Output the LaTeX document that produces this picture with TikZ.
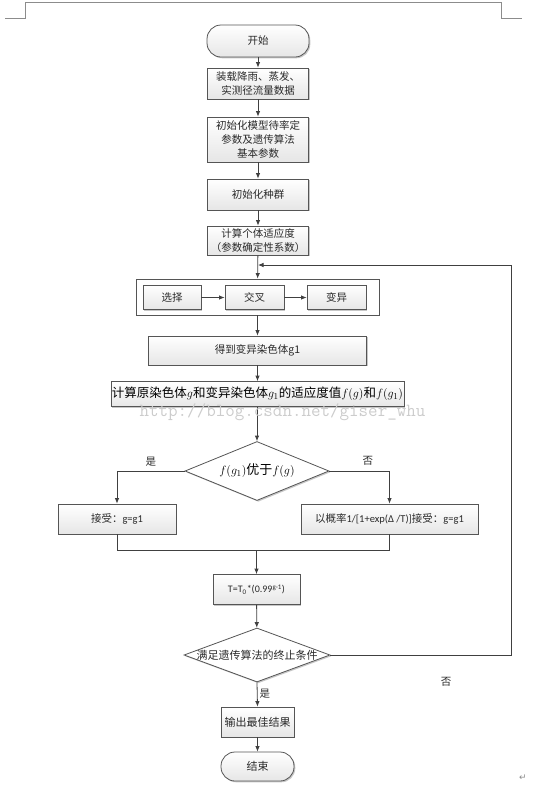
\documentclass[tikz,border=0pt]{standalone}
\usepackage[no-math]{fontspec}
\setmainfont{Carlito}
\newfontfamily\cjk{Noto Sans CJK SC}
\newfontfamily\symfont{DejaVu Sans}
\usetikzlibrary{arrows.meta,shapes.geometric,shadows,calc}
\definecolor{lc}{HTML}{404040}
\definecolor{bc}{HTML}{555555}
\definecolor{fillg}{HTML}{E6E6E6}
\definecolor{tc}{HTML}{2A2A2A}
\definecolor{pagec}{HTML}{8C8C8C}
\tikzset{
  conn/.style={draw=lc, line width=0.8pt},
  arr/.style={conn, -{Latex[length=5.5pt,width=4.5pt]}},
  shadowed/.style={drop shadow={shadow xshift=1.3pt, shadow yshift=-1.3pt, opacity=0.22, fill=black}},
  procbox/.style={draw=bc, line width=0.8pt, top color=white, bottom color=fillg,
    shadowed, align=center, inner sep=1pt, text=tc,
    font=\cjk\fontsize{10.5}{14}\selectfont},
  termbox/.style={procbox, rounded corners=14pt},
  groupbox/.style={draw=bc, line width=0.8pt, fill=white, shadowed},
  decision/.style={diamond, draw=bc, line width=0.8pt, fill=white, shadowed,
    inner sep=0pt, text=tc, font=\cjk\fontsize{11}{14}\selectfont},
  lbl/.style={text=tc, font=\cjk\fontsize{10.5}{12}\selectfont, inner sep=1pt},
  pagemark/.style={draw=pagec, line width=0.7pt},
}
\begin{document}
\begin{tikzpicture}[x=1pt,y=-1pt]
\useasboundingbox (0,0) rectangle (546,793);
% page corner marks
\draw[pagemark] (5,18) -- (25,18) -- (25,2) -- (501,2) -- (501,18) -- (522,18);

% nodes
\node[termbox, minimum width=102pt, minimum height=32pt] (start) at (258,41) {开始};
\node[procbox, minimum width=101pt, minimum height=31pt] (load) at (258,83.5) {装载降雨、蒸发、\\实测径流量数据};
\node[procbox, minimum width=101pt, minimum height=45pt] (init) at (258,139.5) {初始化模型待率定\\参数及遗传算法\\基本参数};
\node[procbox, minimum width=101pt, minimum height=31pt] (pop) at (258,194.5) {初始化种群};
\node[procbox, minimum width=101pt, minimum height=29pt] (fit) at (258,240.5) {计算个体适应度\\（参数确定性系数）};

\node[groupbox, minimum width=243pt, minimum height=36pt] (grp) at (257.5,297) {};
\node[procbox, minimum width=58pt, minimum height=24pt] (sel) at (172,297.5) {选择};
\node[procbox, minimum width=59pt, minimum height=24pt] (cross) at (254.5,297.5) {交叉};
\node[procbox, minimum width=59pt, minimum height=24pt] (mut) at (336.5,297.5) {变异};

\node[procbox, minimum width=218pt, minimum height=29pt] (gone) at (257.5,350.5) {得到变异染色体g1};
\node[procbox, minimum width=293pt, minimum height=25pt, text=black,
  font=\cjk\fontsize{12.5}{14}\selectfont] (calc) at (257.5,394)
  {计算原染色体$g$和变异染色体$g_1$的适应度值$f(g)$和$f(g_1)$};

\node[decision, minimum width=144pt, minimum height=59pt, aspect=2.44,
  font=\cjk\fontsize{13}{14}\selectfont, text=black] (cmp) at (257,471) {$f(g_1)$优于$f(g)$};

\node[procbox, minimum width=118pt, minimum height=30pt] (acc) at (117,519) {接受：\fontspec{Carlito}g=g1};
\node[procbox, minimum width=177pt, minimum height=30pt] (prob) at (389.5,519)
  {以概率\fontspec{Carlito}1/[1+exp(Δ /T)]\cjk 接受：\fontspec{Carlito}g=g1};

\node[procbox, minimum width=87pt, minimum height=30pt, font=\fontsize{10}{12}\selectfont] (temp) at (256.5,589.5)
  {T=T\textsubscript{0}*(0.99\textsuperscript{g-1})};

\node[decision, minimum width=146pt, minimum height=54pt, aspect=2.7] (stop) at (257,655)
  {\makebox[100pt][c]{满足遗传算法的终止条件}};

\node[procbox, minimum width=73pt, minimum height=30pt, font=\cjk\fontsize{11}{14}\selectfont] (out) at (257.5,722) {输出最佳结果};
\node[termbox, minimum width=73pt, minimum height=29pt, font=\cjk\fontsize{11}{14}\selectfont] (end) at (257.5,766.5) {结束};

% connectors
\draw[arr] (start) -- (load);
\draw[arr] (load) -- (init);
\draw[arr] (init) -- (pop);
\draw[arr] (pop) -- (fit);
\draw[arr] (fit) -- (grp);
\draw[arr] (sel) -- (cross);
\draw[arr] (cross) -- (mut);
\draw[arr] (grp) -- (gone);
\draw[arr] (gone) -- (calc);
\draw[arr] (calc.south -| cmp.north) -- (cmp.north);

\draw[arr] (cmp.west) -| node[lbl, pos=0.25, above=3pt] (yes1) {是} (acc.north);
\draw[arr] (cmp.east) -| node[lbl, pos=0.32, above=4pt] (no1) {否} (prob.north);

\coordinate (merge) at ($(temp.north)+(0,-24)$);
\draw[conn] (acc.south) |- (merge);
\draw[conn] (prob.south) |- (merge);
\draw[arr] (merge) -- (temp.north);
\draw[arr] (temp) -- (stop);

\coordinate (loopcorner) at (511,265);
\coordinate (loopin) at (258,265);
\draw[arr] (stop.east) -| (loopcorner) -- (loopin);

\draw[arr] (stop.south) -- node[lbl, pos=0.45, right=1pt] (yes2) {是} (out.north);
\draw[arr] (out) -- (end);

\node[lbl] (no2) at (446,682) {否};

% watermark and end mark
\node[anchor=base, text=black!20, font=\ttfamily\fontsize{18.5}{20}\selectfont, inner sep=0] (wm) at (282.5,416) {http://blog.csdn.net/giser\_whu};
\node[text=pagec, font=\symfont\fontsize{9}{10}\selectfont, inner sep=0] (ret) at (523,778) {↵};
\end{tikzpicture}
\end{document}
